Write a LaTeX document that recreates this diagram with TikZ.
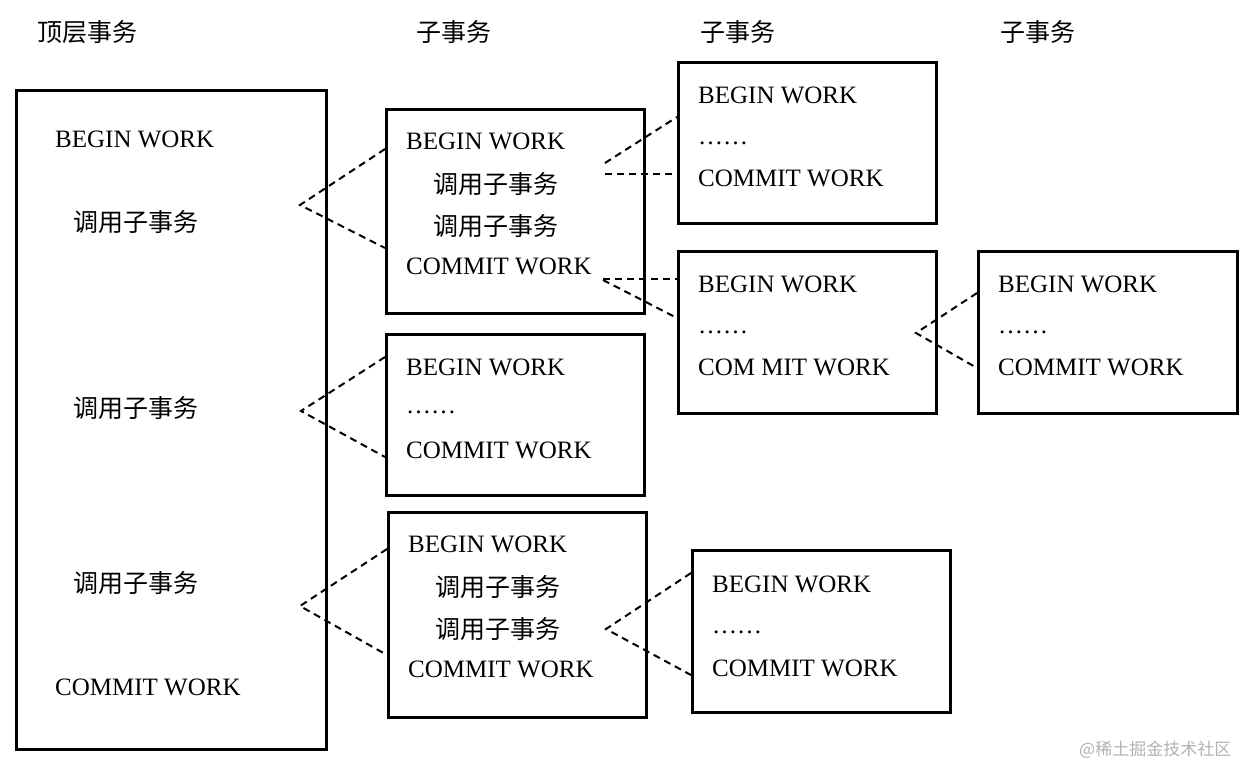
\documentclass[tikz,border=0pt]{standalone}
\usepackage{fontspec}
\setmainfont{Liberation Serif}
\newfontfamily\cjk{Noto Sans CJK SC}
\begin{document}
\begin{tikzpicture}[x=1pt,y=-1pt,
  box/.style={draw, line width=3pt, inner sep=0pt, anchor=north west},
  lat/.style={anchor=base west, inner sep=0pt, font=\fontsize{25}{25}\selectfont},
  zh/.style={anchor=base west, inner sep=0pt, font=\cjk\fontsize{25}{25}\selectfont},
  dline/.style={line width=2pt, dash pattern=on 7pt off 5pt}]
\useasboundingbox (0,0) rectangle (1246,766);
% headers
\node[zh] (h1) at (37,41) {顶层事务};
\node[zh] (h2) at (416,41) {子事务};
\node[zh] (h3) at (700,41) {子事务};
\node[zh] (h4) at (1000,41) {子事务};
% boxes
\node[box, minimum width=310pt, minimum height=659pt] (b1) at (15,89) {};
\node[box, minimum width=258pt, minimum height=204pt] (b2) at (385,108) {};
\node[box, minimum width=258pt, minimum height=161pt] (b3) at (385,333) {};
\node[box, minimum width=258pt, minimum height=205pt] (b4) at (387,511) {};
\node[box, minimum width=258pt, minimum height=161pt] (b5) at (677,61) {};
\node[box, minimum width=258pt, minimum height=162pt] (b6) at (677,250) {};
\node[box, minimum width=259pt, minimum height=162pt] (b7) at (977,250) {};
\node[box, minimum width=258pt, minimum height=162pt] (b8) at (691,549) {};
% b1 texts
\node[lat] (t11) at (55,147.5) {BEGIN WORK};
\node[zh] (t12) at (73,231.5) {调用子事务};
\node[zh] (t13) at (73,417.5) {调用子事务};
\node[zh] (t14) at (73,592.5) {调用子事务};
\node[lat] (t15) at (55,695) {COMMIT WORK};
% b2 texts
\node[lat] (t21) at (406,149.5) {BEGIN WORK};
\node[zh] (t22) at (433,193) {调用子事务};
\node[zh] (t23) at (433,235) {调用子事务};
\node[lat] (t24) at (406,274.5) {COMMIT WORK};
% b3 texts
\node[lat] (t31) at (406,375.5) {BEGIN WORK};
\node[lat] (t32) at (406,413) {……};
\node[lat] (t33) at (406,458.5) {COMMIT WORK};
% b4 texts
\node[lat] (t41) at (408,552.5) {BEGIN WORK};
\node[zh] (t42) at (435,596) {调用子事务};
\node[zh] (t43) at (435,638) {调用子事务};
\node[lat] (t44) at (408,677.5) {COMMIT WORK};
% b5 texts
\node[lat] (t51) at (698,103.5) {BEGIN WORK};
\node[lat] (t52) at (698,144) {……};
\node[lat] (t53) at (698,186.5) {COMMIT WORK};
% b6 texts
\node[lat] (t61) at (698,292.5) {BEGIN WORK};
\node[lat] (t62) at (698,333) {……};
\node[lat] (t63) at (698,375.5) {COM MIT WORK};
% b7 texts
\node[lat] (t71) at (998,292.5) {BEGIN WORK};
\node[lat] (t72) at (998,333) {……};
\node[lat] (t73) at (998,375.5) {COMMIT WORK};
% b8 texts
\node[lat] (t81) at (712,592.5) {BEGIN WORK};
\node[lat] (t82) at (712,633) {……};
\node[lat] (t83) at (712,676.5) {COMMIT WORK};
% watermark
\node[anchor=base west, inner sep=0pt, text=gray!60, font=\cjk\fontsize{17}{17}\selectfont] (wm) at (1079,755) {@稀土掘金技术社区};
% connector coordinates
\coordinate (a1) at (300,205); \coordinate (e1a) at (385,149); \coordinate (e1b) at (385,248);
\coordinate (a2) at (301,411); \coordinate (e2a) at (385,357); \coordinate (e2b) at (385,457);
\coordinate (a3) at (300,606); \coordinate (e3a) at (387,549); \coordinate (e3b) at (387,655);
\coordinate (a4) at (605,163); \coordinate (e4a) at (677,117);
\coordinate (a4h) at (605,174); \coordinate (e4b) at (677,174);
\coordinate (a5h) at (603,279); \coordinate (e5a) at (677,279);
\coordinate (a5) at (603,280); \coordinate (e5b) at (677,318);
\coordinate (a6) at (916,333); \coordinate (e6a) at (977,293); \coordinate (e6b) at (977,368);
\coordinate (a7) at (606,629); \coordinate (e7a) at (691,573); \coordinate (e7b) at (691,675);
% connectors
\draw[dline] (e1a) -- (a1) -- (e1b);
\draw[dline] (e2a) -- (a2) -- (e2b);
\draw[dline] (e3a) -- (a3) -- (e3b);
\draw[dline] (a4) -- (e4a);
\draw[dline] (a4h) -- (e4b);
\draw[dline] (a5h) -- (e5a);
\draw[dline] (a5) -- (e5b);
\draw[dline] (e6a) -- (a6) -- (e6b);
\draw[dline] (e7a) -- (a7) -- (e7b);
\end{tikzpicture}
\end{document}
